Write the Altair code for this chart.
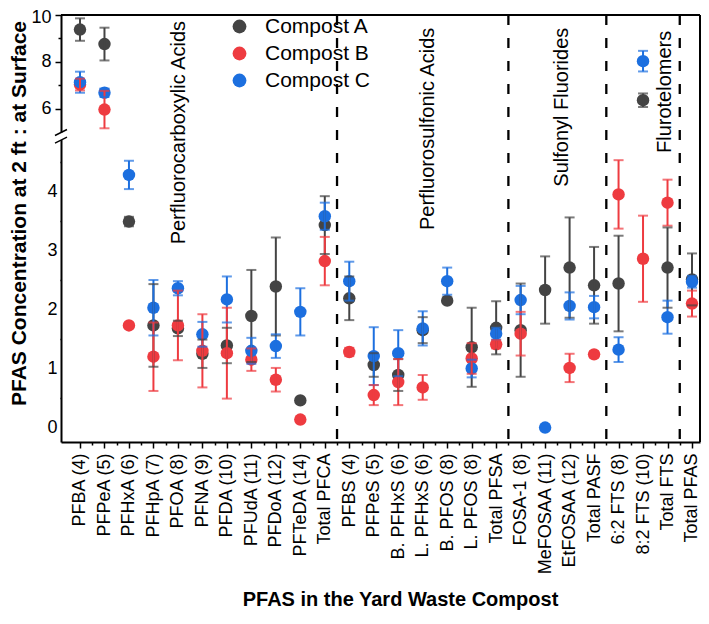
import json
import altair as alt
import pandas as pd

# ---------------- data ----------------
categories = ["PFBA (4)", "PFPeA (5)", "PFHxA (6)", "PFHpA (7)", "PFOA (8)", "PFNA (9)",
              "PFDA (10)", "PFUdA (11)", "PFDoA (12)", "PFTeDA (14)", "Total PFCA",
              "PFBS (4)", "PFPeS (5)", "B. PFHxS (6)", "L. PFHxS (6)", "B. PFOS (8)",
              "L. PFOS (8)", "Total PFSA", "FOSA-1 (8)", "MeFOSAA (11)", "EtFOSAA (12)",
              "Total PASF", "6:2 FTS (8)", "8:2 FTS (10)", "Total FTS", "Total PFAS"]

series_names = ["Compost A", "Compost B", "Compost C"]
series_colors = ["#444444", "#ee3b40", "#1c6fdf"]

compost_a = [9.38, 8.76, 3.49, 1.73, 1.68, 1.25, 1.39, 1.89, 2.39, 0.46, 3.43,
             2.19, 1.06, 0.89, 1.65, 2.15, 1.36, 1.69,
             1.65, 2.33, 2.71, 2.41, 2.44, 6.36, 2.71, 2.51]
compost_a_err = [0.48, 0.70, 0.08, 0.70, 0.13, 0.24, 0.30, 0.78, 0.83, 0, 0.49,
                 0.37, 0.20, 0.27, 0.22, 0, 0.67, 0.45,
                 0.79, 0.57, 0.85, 0.65, 0.81, 0.29, 0.68, 0.44]
compost_b = [7.03, 5.96, 1.73, 1.20, 1.73, 1.30, 1.26, 1.15, 0.81, 0.135, 2.82,
             1.28, 0.55, 0.77, 0.68, None, 1.17, 1.41,
             1.59, None, 1.01, 1.24, 3.95, 2.86, 3.81, 2.10]
compost_b_err = [0.25, 0.80, 0, 0.58, 0.59, 0.62, 0.77, 0.19, 0.20, 0, 0.41,
                 0.07, 0.17, 0.39, 0.21, 0, 0.26, 0.07,
                 0.37, 0, 0.24, 0.05, 0.58, 0.73, 0.39, 0.22]
compost_c = [7.13, 6.68, 4.28, 2.03, 2.36, 1.58, 2.17, 1.30, 1.38, 1.96, 3.58,
             2.48, 1.21, 1.26, 1.68, 2.48, 1.00, 1.59,
             2.16, 0.0, 2.06, 2.04, 1.32, 8.03, 1.87, 2.47]
compost_c_err = [0.45, 0.18, 0.24, 0.47, 0.12, 0.21, 0.39, 0.22, 0.20, 0.40, 0.23,
                 0.33, 0.49, 0.39, 0.29, 0.23, 0.15, 0.10,
                 0.24, 0, 0.23, 0.19, 0.21, 0.44, 0.28, 0.10]

group_labels = ["Perfluorocarboxylic Acids", "Perfluorosulfonic Acids",
                "Sulfonyl Fluorides", "Flurotelomers"]
group_label_x = [4.04, 14.2, 19.67, 23.88]
group_label_top = [9.75, 9.46, 9.46, 9.33]   # value (upper scale) at the text's top end
group_dividers = [10.5, 17.5, 21.5, 24.5]

# ---------------- broken y-axis mapping ----------------
W, H = 639, 427
TOP_PX_PER_UNIT = 23.4
PXU = 59.03                                  # lower section pixels per unit
YMIN = -0.245
YLOW_TOP = 4.87                              # top of the lower section
YMAX = YMIN + H / PXU
K = TOP_PX_PER_UNIT / PXU
P5 = YMAX - 5 * K


def pos(v):
    return v if v < 4.95 else P5 + (v - 5) * K


def ypix(p):
    return (YMAX - p) * PXU


FONT = "Liberation Sans"

rows, erows = [], []
zord_err = {"Compost A": 0, "Compost C": 1, "Compost B": 2}
for si, (name, means, errs) in enumerate(zip(series_names,
                                             [compost_a, compost_b, compost_c],
                                             [compost_a_err, compost_b_err, compost_c_err])):
    for i, (m, e) in enumerate(zip(means, errs)):
        if m is None:
            continue
        rows.append({"series": name, "idx": i, "ypos": pos(m), "zord": si})
        if e and e > 0:
            erows.append({"series": name, "idx": i, "lo": pos(m - e), "hi": pos(m + e),
                          "zord": zord_err[name]})
df = pd.DataFrame(rows)
dfe = pd.DataFrame(erows)

xscale = alt.Scale(domain=[-0.776, 25.327], nice=False, zero=False, padding=0)
yscale = alt.Scale(domain=[YMIN, YMAX + 0.001], nice=False, zero=False, padding=0)

x_vals = [i * 0.5 for i in range(0, 51)]
x_label_expr = ("datum.value % 1 == 0 ? " + json.dumps(categories) + "[datum.value] : ''")
x_axis = alt.Axis(values=x_vals, labelExpr=x_label_expr, labelAngle=270,
                  labelAlign="right", labelBaseline="middle", labelFontSize=18,
                  labelFont=FONT, labelColor="black", labelPadding=5,
                  labelOverlap=False, labelFlush=False, grid=False,
                  tickColor="black", tickWidth=1.5,
                  tickSize={"condition": {"test": "datum.value % 1 != 0", "value": 3}, "value": 6},
                  domainColor="black", domainWidth=2,
                  titleFont=FONT, titleFontSize=20, titleFontWeight="bold",
                  titleColor="black", titleX=339, titleY=157, titleBaseline="middle")

y_major = [0, 1, 2, 3, 4, pos(6), pos(8), pos(10)]
y_minor = [0.5, 1.5, 2.5, 3.5, 4.5, pos(7), pos(9)]
y_vals = sorted(y_major + y_minor)
vexpr = f"(5 + (datum.value - {P5}) / {K})"
y_label_expr = (f"datum.value < 4.95 ? (abs(datum.value - round(datum.value)) < 0.01 ? "
                f"format(round(datum.value), 'd') : '') : "
                f"(round({vexpr}) % 2 == 0 ? format(round({vexpr}), 'd') : '')")
y_minor_test = (f"datum.value < 4.95 ? abs(datum.value - round(datum.value)) > 0.01 : "
                f"round({vexpr}) % 2 != 0")
y_axis = alt.Axis(values=y_vals, labelExpr=y_label_expr, labelFontSize=18,
                  labelFont=FONT, labelColor="black", labelPadding=4,
                  labelOverlap=False, labelFlush=False, grid=False,
                  labelOffset={"condition": {"test": f"datum.value > {YMAX - 0.05}", "value": 2},
                               "value": 0},
                  tickColor="black", tickWidth=1.5,
                  tickSize={"condition": {"test": y_minor_test, "value": 3}, "value": 6},
                  domainColor="black", domainWidth=2,
                  titleFont=FONT, titleFontSize=21, titleFontWeight="bold",
                  titleColor="black", titleAngle=270, titleX=-42, titleY=198,
                  titleBaseline="middle", titleAlign="center")

X_TITLE = "PFAS in the Yard Waste Compost"
Y_TITLE = "PFAS Concentration at 2 ft : at Surface"


def X(field):
    return alt.X(field, scale=xscale, axis=x_axis, title=X_TITLE)


def Y(field):
    return alt.Y(field, scale=yscale, axis=y_axis, title=Y_TITLE)


color_scale = alt.Scale(domain=series_names, range=series_colors)

points = alt.Chart(df).mark_circle(size=155, opacity=1).encode(
    x=X("idx:Q"), y=Y("ypos:Q"),
    color=alt.Color("series:N", scale=color_scale, title=None,
                    legend=alt.Legend(orient="none", legendX=168, legendY=1, padding=0,
                                      direction="vertical", labelFontSize=21,
                                      labelFont=FONT, labelColor="black",
                                      symbolType="circle", symbolSize=190,
                                      symbolStrokeWidth=0, rowPadding=5,
                                      labelOffset=15)),
    order=alt.Order("zord:Q"))

err_rule = alt.Chart(dfe).mark_rule(strokeWidth=2).encode(
    x=X("idx:Q"), y=Y("lo:Q"), y2="hi:Q",
    color=alt.Color("series:N", scale=color_scale, legend=None),
    order=alt.Order("zord:Q"))
cap_lo = alt.Chart(dfe).mark_tick(orient="horizontal", size=10, thickness=2).encode(
    x=X("idx:Q"), y=Y("lo:Q"),
    color=alt.Color("series:N", scale=color_scale, legend=None),
    order=alt.Order("zord:Q"))
cap_hi = alt.Chart(dfe).mark_tick(orient="horizontal", size=10, thickness=2).encode(
    x=X("idx:Q"), y=Y("hi:Q"),
    color=alt.Color("series:N", scale=color_scale, legend=None),
    order=alt.Order("zord:Q"))

dividers = alt.Chart(pd.DataFrame({"d": group_dividers})).mark_rule(
    color="black", strokeWidth=2.3, strokeDash=[10, 13]).encode(x=X("d:Q"))

labels_df = pd.DataFrame({"label": group_labels, "gx": group_label_x,
                          "gy": [pos(v) for v in group_label_top]})
group_text = alt.Chart(labels_df).mark_text(
    angle=270, fontSize=20, font=FONT, color="black", align="right",
    baseline="middle").encode(x=X("gx:Q"), y=Y("gy:Q"), text="label:N")

one = pd.DataFrame({"a": [0]})
frame_top = alt.Chart(one).mark_rule(color="black", strokeWidth=2).encode(
    x=alt.value(0), x2=alt.value(W), y=alt.value(0))
frame_right = alt.Chart(one).mark_rule(color="black", strokeWidth=2).encode(
    x=alt.value(W), y=alt.value(0), y2=alt.value(H))

gap_top = ypix(P5) + 0.5
gap_bot = ypix(YLOW_TOP)
gap_mask = alt.Chart(one).mark_rect(color="white").encode(
    x=alt.value(-4), x2=alt.value(4), y=alt.value(gap_top), y2=alt.value(gap_bot))
slash1 = alt.Chart(one).mark_rule(color="black", strokeWidth=1.5).encode(
    x=alt.value(-6), x2=alt.value(6), y=alt.value(gap_top + 3), y2=alt.value(gap_top - 3))
slash2 = alt.Chart(one).mark_rule(color="black", strokeWidth=1.5).encode(
    x=alt.value(-6), x2=alt.value(6), y=alt.value(gap_bot + 3), y2=alt.value(gap_bot - 3))

chart = alt.layer(
    dividers, group_text, points, err_rule, cap_lo, cap_hi,
    frame_top, frame_right, gap_mask, slash1, slash2
).properties(
    width=W, height=H,
    autosize=alt.AutoSizeParams(type="none"),
    padding={"left": 53, "top": 7, "right": 1, "bottom": 168},
    background="white"
).configure_view(strokeWidth=0)

chart.save("out.html", embed_options={"renderer": "svg", "actions": False})
